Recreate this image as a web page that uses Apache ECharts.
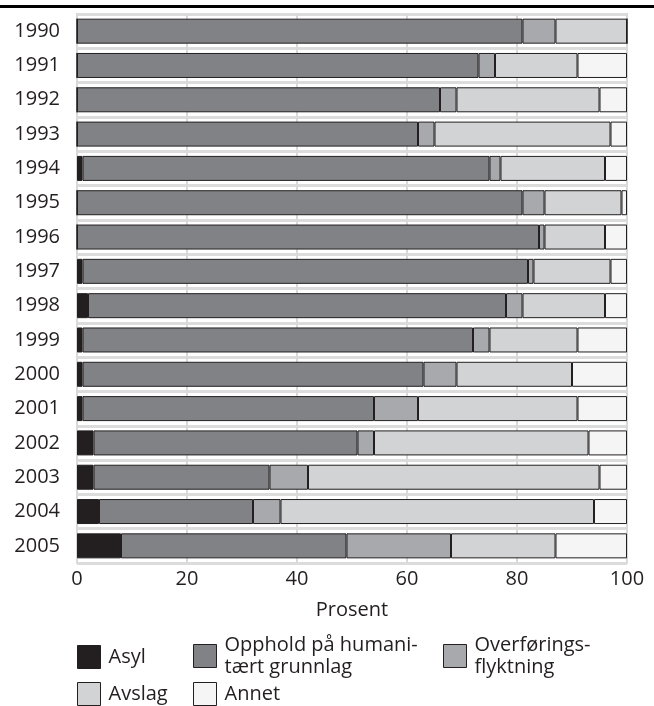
<!DOCTYPE html>
<html>
<head>
<meta charset="utf-8">
<script src="https://cdn.jsdelivr.net/npm/echarts@6/dist/echarts.min.js"></script>
<style>
  html, body { margin: 0; padding: 0; background: #fff; }
  #chart { width: 654px; height: 706px; }
</style>
</head>
<body>
<div id="chart"></div>
<script>
// år (kategorier), topp til bunn
const years = ['1990', '1991', '1992', '1993', '1994', '1995', '1996', '1997',
  '1998', '1999', '2000', '2001', '2002', '2003', '2004', '2005'];

// prosentandeler per år
const asyl = [0, 0, 0, 0, 1, 0, 0, 1, 2, 1, 1, 1, 3, 3, 4, 8];
const opphold = [81, 73, 66, 62, 74, 81, 84, 81, 76, 71, 62, 53, 48, 32, 28, 41];
const overforing = [6, 3, 3, 3, 2, 4, 1, 1, 3, 3, 6, 8, 3, 7, 5, 19];
const avslag = [13, 15, 26, 32, 19, 14, 11, 14, 15, 16, 21, 29, 39, 53, 57, 19];
const annet = [0, 9, 5, 3, 4, 1, 4, 3, 4, 9, 10, 9, 7, 5, 6, 13];

const xTicks = [0, 20, 40, 60, 80, 100];

const seriesDefs = [
  { name: 'Asyl', data: asyl, color: '#231f20' },
  { name: 'Opphold på humanitært grunnlag', data: opphold, color: '#808285' },
  { name: 'Overføringsflyktning', data: overforing, color: '#a7a9ac' },
  { name: 'Avslag', data: avslag, color: '#d1d3d4' },
  { name: 'Annet', data: annet, color: '#f5f5f5' },
];

// legendetekst med orddeling som i originalen
const legendText = {
  'Opphold på humanitært grunnlag': 'Opphold på humani-\ntært grunnlag',
  'Overføringsflyktning': 'Overførings-\nflyktning',
};

const font = '"Open Sans", "Noto Sans", sans-serif';
const ink = '#231f20';

// én legende per element, plassert i rutenett
const legendPos = [
  { left: 77, top: 645 },
  { left: 193, top: 634 },
  { left: 443, top: 634 },
  { left: 77, top: 682 },
  { left: 193, top: 682 },
];

const chart = echarts.init(document.getElementById('chart'), null, { renderer: 'canvas' });

chart.setOption({
  animation: false,
  backgroundColor: '#fff',
  graphic: [
    { type: 'rect', left: 0, top: 5, shape: { width: 654, height: 3 }, style: { fill: '#000' } },
  ],
  grid: {
    left: 77, right: 27, top: 14, bottom: 143,
    show: true, borderColor: '#d9d9d9', borderWidth: 2,
  },
  legend: seriesDefs.map((s, i) => ({
    data: [s.name],
    left: legendPos[i].left,
    top: legendPos[i].top,
    itemWidth: 23,
    itemHeight: 23,
    itemGap: 0,
    icon: 'rect',
    selectedMode: false,
    padding: 0,
    formatter: (n) => legendText[n] || n,
    textStyle: {
      fontFamily: font, fontSize: 20, color: ink, lineHeight: 22,
      padding: [0, 0, 0, 3],
    },
    itemStyle: { borderColor: ink, borderWidth: 1 },
  })),
  xAxis: {
    type: 'value',
    min: 0,
    max: 100,
    interval: 20,
    name: 'Prosent',
    nameLocation: 'middle',
    nameGap: 37,
    nameTextStyle: { fontFamily: font, fontSize: 20, color: ink },
    axisLine: { show: false },
    axisTick: { show: false },
    axisLabel: {
      fontFamily: font, fontSize: 20, color: ink, margin: 6,
      formatter: (v) => (xTicks.includes(v) ? String(v) : ''),
    },
    splitLine: { show: true, lineStyle: { color: '#d9d9d9', width: 2 } },
  },
  yAxis: {
    type: 'category',
    data: years,
    inverse: true,
    axisLine: { show: false },
    axisTick: { show: false },
    axisLabel: { fontFamily: font, fontSize: 20, color: ink, margin: 17 },
    splitLine: { show: true, lineStyle: { color: '#dcdcdc', width: 3 } },
  },
  series: seriesDefs.map((s) => ({
    type: 'bar',
    name: s.name,
    stack: 'total',
    data: s.data,
    barWidth: 25,
    itemStyle: { color: s.color, borderColor: ink, borderWidth: 1 },
  })),
});
</script>
</body>
</html>
